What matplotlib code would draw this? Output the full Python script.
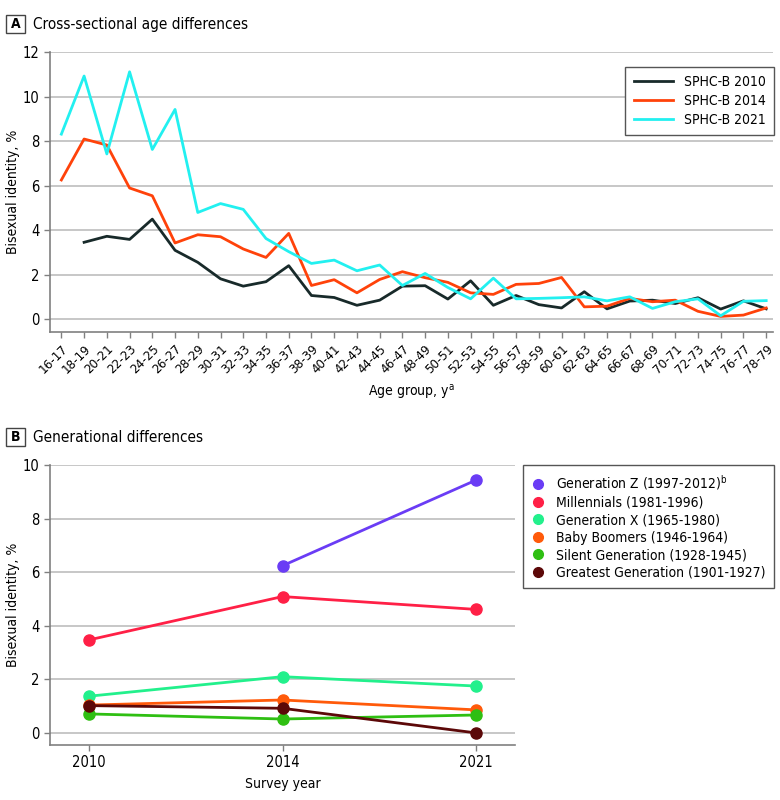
import numpy as np
import matplotlib.pyplot as plt
from matplotlib.patches import Rectangle

plt.rcParams['font.family'] = ['DejaVu Sans']
plt.rcParams['font.stretch'] = 'condensed'

# panel A data
age_groups = ['16-17', '18-19', '20-21', '22-23', '24-25', '26-27', '28-29', '30-31',
              '32-33', '34-35', '36-37', '38-39', '40-41', '42-43', '44-45', '46-47',
              '48-49', '50-51', '52-53', '54-55', '56-57', '58-59', '60-61', '62-63',
              '64-65', '66-67', '68-69', '70-71', '72-73', '74-75', '76-77', '78-79']
sphc_2010 = [np.nan, 3.45, 3.72, 3.58, 4.49, 3.09, 2.55, 1.81, 1.48, 1.68, 2.40, 1.06,
             0.97, 0.62, 0.85, 1.48, 1.50, 0.90, 1.72, 0.62, 1.06, 0.65, 0.50, 1.23,
             0.46, 0.81, 0.85, 0.70, 0.96, 0.45, 0.82, 0.46]
sphc_2014 = [6.25, 8.09, 7.82, 5.89, 5.54, 3.42, 3.79, 3.70, 3.15, 2.77, 3.85, 1.51,
             1.77, 1.18, 1.78, 2.13, 1.86, 1.65, 1.18, 1.11, 1.56, 1.60, 1.87, 0.55,
             0.58, 0.93, 0.78, 0.85, 0.35, 0.12, 0.18, 0.50]
sphc_2021 = [8.31, 10.92, 7.42, 11.11, 7.62, 9.42, 4.79, 5.19, 4.93, 3.62, 3.03, 2.50,
             2.65, 2.17, 2.43, 1.51, 2.05, 1.42, 0.91, 1.84, 0.91, 0.93, 0.96, 1.00,
             0.82, 1.00, 0.48, 0.78, 0.91, 0.15, 0.80, 0.83]

# panel B data
years = ['2010', '2014', '2021']
gen_z = [np.nan, 6.24, 9.44]
millennials = [3.47, 5.09, 4.61]
gen_x = [1.37, 2.10, 1.75]
boomers = [1.04, 1.23, 0.86]
silent = [0.71, 0.52, 0.67]
greatest = [1.02, 0.92, 0.0]

gen_labels = ['Generation Z (1997-2012)$^{\\mathregular{b}}$', 'Millennials (1981-1996)',
              'Generation X (1965-1980)', 'Baby Boomers (1946-1964)',
              'Silent Generation (1928-1945)', 'Greatest Generation (1901-1927)']
gen_colors = ['#6a3cf5', '#ff2046', '#22f08c', '#ff5a0a', '#2fbf12', '#5c0808']

fig = plt.figure(figsize=(7.8, 8.0), dpi=100)


def style_axes(ax):
    for s in ['top', 'right']:
        ax.spines[s].set_visible(False)
    for s in ['left', 'bottom']:
        ax.spines[s].set_color('#808080')
        ax.spines[s].set_linewidth(1.2)
    ax.yaxis.grid(True, color='#bdbdbd', linewidth=1.2)
    ax.set_axisbelow(True)
    ax.tick_params(colors='#808080', labelcolor='black', length=4, width=1)


def panel_label(y, letter, title):
    fig.patches.append(Rectangle((6 / 780, 1 - (y + 9) / 800), 19 / 780, 18 / 800,
                                 transform=fig.transFigure, fill=False,
                                 edgecolor='#444444', linewidth=1))
    fig.text(15.5 / 780, 1 - y / 800, letter, ha='center', va='center',
             fontsize=10, fontweight='bold')
    fig.text(33 / 780, 1 - y / 800, title, ha='left', va='center', fontsize=11)


# ---- panel A
ax1 = fig.add_axes([50 / 780, 1 - 332 / 800, 723 / 780, 280 / 800])
style_axes(ax1)
x = np.arange(len(age_groups))
ax1.plot(x, sphc_2010, color='#182a2a', lw=2, label='SPHC-B 2010')
ax1.plot(x, sphc_2014, color='#ff420a', lw=2, label='SPHC-B 2014')
ax1.plot(x, sphc_2021, color='#22f0f0', lw=2, label='SPHC-B 2021')
ax1.set_xlim(-0.5, 31.3)
ax1.set_ylim(-0.58, 12)
ax1.set_yticks(range(0, 13, 2))
ax1.set_xticks(x)
ax1.set_xticklabels(age_groups, rotation=45, ha='right', rotation_mode='anchor',
                    fontsize=9.5)
ax1.tick_params(axis='y', labelsize=10.5)
ax1.set_ylabel('Bisexual identity, %', fontsize=10, labelpad=2)
ax1.set_xlabel('Age group, y$^{\\mathregular{a}}$', fontsize=10, labelpad=5)
leg1 = ax1.legend(loc='upper right', bbox_to_anchor=(774 / 780, 1 - 67 / 800),
                  bbox_transform=fig.transFigure, borderaxespad=0, fancybox=False,
                  framealpha=1, edgecolor='#555555', fontsize=10, handlelength=2.8,
                  borderpad=0.6, labelspacing=0.35)
leg1.get_frame().set_linewidth(1)

panel_label(24, 'A', 'Cross-sectional age differences')

# ---- panel B
ax2 = fig.add_axes([50 / 780, 1 - 745 / 800, 465 / 780, 280 / 800])
style_axes(ax2)
xb = np.arange(len(years))
for vals, lab, col in zip([gen_z, millennials, gen_x, boomers, silent, greatest],
                          gen_labels, gen_colors):
    ax2.plot(xb, vals, color=col, lw=2, marker='o', ms=8, label=lab)
ax2.set_xlim(-0.2, 2.2)
ax2.set_ylim(-0.45, 10)
ax2.set_yticks(range(0, 11, 2))
ax2.set_xticks(xb)
ax2.set_xticklabels(years, fontsize=10.5)
ax2.tick_params(axis='y', labelsize=10.5)
ax2.set_ylabel('Bisexual identity, %', fontsize=10, labelpad=2)
ax2.set_xlabel('Survey year', fontsize=10, labelpad=5)
handles = [plt.Line2D([], [], ls='none', marker='o', ms=7, color=c) for c in gen_colors]
leg2 = ax2.legend(handles, gen_labels, loc='upper right',
                  bbox_to_anchor=(774 / 780, 1 - 465 / 800),
                  bbox_transform=fig.transFigure, borderaxespad=0, fancybox=False,
                  framealpha=1, edgecolor='#555555', fontsize=10, handlelength=1,
                  borderpad=0.6, labelspacing=0.25)
leg2.get_frame().set_linewidth(1)

panel_label(437, 'B', 'Generational differences')

fig.savefig('out.png', dpi=100)
